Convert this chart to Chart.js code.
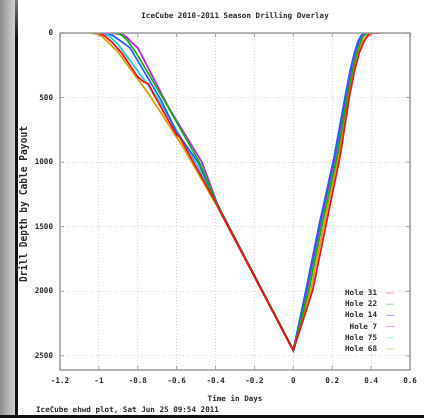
<!DOCTYPE html>
<html>
<head>
<meta charset="utf-8">
<script src="https://cdn.jsdelivr.net/npm/chart.js@4.4.1/dist/chart.umd.min.js"></script>
<style>
  html, body { margin: 0; padding: 0; background: #ffffff; }
  #wrap { position: relative; width: 424px; height: 418px; overflow: hidden; background: #ffffff; }
  #strip { position: absolute; left: 0; top: 0; width: 15px; height: 418px; background: linear-gradient(to right, #8c8c8c, #b8b8b8 60%, #d0d0d0); }
  #bezel { position: absolute; left: 15px; top: 0; width: 3px; height: 418px; background: linear-gradient(to bottom, #777 0px, #111 40px, #111 418px); }
  #bottom { position: absolute; left: 0; top: 415px; width: 424px; height: 3px; background: #111; }
  canvas { position: absolute; left: 0; top: 0; }
</style>
</head>
<body>
<div id="wrap">
  <canvas id="c" width="424" height="418"></canvas>
  <div id="strip"></div>
  <div id="bezel"></div>
  <div id="bottom"></div>
</div>
<script>
// ---- Data ----
const chartTitle = 'IceCube 2010-2011 Season Drilling Overlay';
const xTitle = 'Time in Days';
const yTitle = 'Drill Depth by Cable Payout';
const footerText = 'IceCube ehwd plot, Sat Jun 25 09:54 2011';

const xTickValues = [-1.2, -1, -0.8, -0.6, -0.4, -0.2, 0, 0.2, 0.4, 0.6];
const xTickLabels = ['-1.2', '-1', '-0.8', '-0.6', '-0.4', '-0.2', '0', '0.2', '0.4', '0.6'];
const yTickValues = [0, 500, 1000, 1500, 2000, 2500];
const yTickLabels = ['0', '500', '1000', '1500', '2000', '2500'];

const holeLabels = ['Hole 31', 'Hole 22', 'Hole 14', 'Hole 7', 'Hole 75', 'Hole 68'];
const holeColors = ['#ff1010', '#10b010', '#2060ff', '#c020e0', '#20d0e0', '#d8a000'];

const hole31Time  = [-1.02, -1.00, -0.97, -0.93, -0.88, -0.80, -0.77, -0.745, -0.72, -0.60, -0.585, -0.52, -0.40, -0.20, 0.00, 0.100, 0.170, 0.240, 0.290, 0.315, 0.340, 0.362, 0.380, 0.395, 0.410, 0.450];
const hole31Depth = [0, 2, 22, 75, 160, 340, 378, 395, 470, 790, 805, 985, 1310, 1884, 2458, 1990, 1470, 960, 480, 290, 150, 70, 28, 8, 0, 0];

const hole22Time  = [-0.93, -0.90, -0.88, -0.855, -0.81, -0.66, -0.48, -0.40, -0.20, 0.00, 0.080, 0.150, 0.225, 0.280, 0.305, 0.328, 0.347, 0.362, 0.376, 0.395];
const hole22Depth = [0, 3, 20, 55, 150, 530, 1010, 1300, 1880, 2458, 1990, 1470, 960, 480, 290, 150, 65, 22, 4, 0];

const hole14Time  = [-0.98, -0.95, -0.93, -0.89, -0.84, -0.68, -0.60, -0.585, -0.49, -0.40, -0.20, 0.00, 0.065, 0.135, 0.210, 0.268, 0.292, 0.315, 0.333, 0.348, 0.360, 0.380];
const hole14Depth = [0, 5, 18, 60, 115, 520, 770, 800, 1000, 1300, 1880, 2458, 1990, 1470, 960, 480, 290, 150, 65, 22, 4, 0];

const hole7Time   = [-0.93, -0.88, -0.855, -0.83, -0.80, -0.64, -0.47, -0.38, -0.20, 0.00, 0.070, 0.140, 0.215, 0.272, 0.296, 0.319, 0.337, 0.352, 0.364, 0.385];
const hole7Depth  = [0, 8, 35, 75, 115, 580, 1000, 1370, 1884, 2458, 1990, 1470, 960, 480, 290, 150, 65, 22, 4, 0];

const hole75Time  = [-1.00, -0.97, -0.945, -0.90, -0.70, -0.50, -0.40, -0.20, 0.00, 0.075, 0.145, 0.220, 0.276, 0.300, 0.323, 0.341, 0.356, 0.368, 0.388];
const hole75Depth = [0, 5, 25, 90, 500, 1010, 1310, 1884, 2458, 1990, 1470, 960, 480, 290, 150, 65, 22, 4, 0];

const hole68Time  = [-1.04, -1.01, -0.98, -0.90, -0.74, -0.56, -0.40, -0.20, 0.00, 0.090, 0.160, 0.232, 0.285, 0.312, 0.336, 0.355, 0.368, 0.378, 0.392, 0.420];
const hole68Depth = [0, 6, 30, 150, 480, 900, 1320, 1884, 2458, 1990, 1470, 960, 480, 290, 150, 75, 45, 22, 5, 0];

const holeTimes  = [hole31Time, hole22Time, hole14Time, hole7Time, hole75Time, hole68Time];
const holeDepths = [hole31Depth, hole22Depth, hole14Depth, hole7Depth, hole75Depth, hole68Depth];

// ---- Build chart ----
const FONT = '"DejaVu Sans Mono", monospace';
const textColor = '#2a2a2a';

const datasets = holeLabels.map((lab, i) => ({
  label: lab,
  data: holeTimes[i].map((t, j) => ({ x: t, y: holeDepths[i][j] })),
  borderColor: holeColors[i],
  backgroundColor: holeColors[i],
  borderWidth: 1.8,
  pointRadius: 0,
  showLine: true,
  fill: false,
  tension: 0
}));

const decor = {
  id: 'decor',
  afterDraw(chart) {
    const ctx = chart.ctx;
    const a = chart.chartArea;
    const xs = chart.scales.x, ys = chart.scales.y;
    ctx.save();
    // frame
    ctx.strokeStyle = '#9c9c9c';
    ctx.lineWidth = 1.5;
    ctx.strokeRect(a.left, a.top, a.right - a.left, a.bottom - a.top);
    // inward tick marks
    ctx.lineWidth = 1;
    ctx.strokeStyle = '#a0a0a0';
    xTickValues.forEach(v => {
      const px = xs.getPixelForValue(v);
      ctx.beginPath(); ctx.moveTo(px, a.top); ctx.lineTo(px, a.top + 4); ctx.stroke();
      ctx.beginPath(); ctx.moveTo(px, a.bottom); ctx.lineTo(px, a.bottom - 4); ctx.stroke();
    });
    yTickValues.forEach(v => {
      const py = ys.getPixelForValue(v);
      ctx.beginPath(); ctx.moveTo(a.left, py); ctx.lineTo(a.left + 4, py); ctx.stroke();
      ctx.beginPath(); ctx.moveTo(a.right, py); ctx.lineTo(a.right - 4, py); ctx.stroke();
    });
    // texts
    ctx.fillStyle = textColor;
    ctx.font = 'bold 7.6px ' + FONT;
    ctx.textAlign = 'center';
    ctx.textBaseline = 'middle';
    ctx.fillText(chartTitle, (a.left + a.right) / 2, 16);
    ctx.fillText(xTitle, (a.left + a.right) / 2, 399);
    ctx.textAlign = 'left';
    ctx.fillText(footerText, 36, 410);
    ctx.save();
    ctx.translate(24, 204);
    ctx.rotate(-Math.PI / 2);
    ctx.textAlign = 'center';
    ctx.font = 'bold 9.6px ' + FONT;
    ctx.fillText(yTitle, 0, 0);
    ctx.restore();
    // legend (inside, lower right)
    ctx.font = 'bold 7.6px ' + FONT;
    ctx.textAlign = 'right';
    holeLabels.forEach((lab, i) => {
      const y = 293 + i * 11.2;
      ctx.fillStyle = textColor;
      ctx.fillText(lab, 377, y);
      ctx.strokeStyle = holeColors[i];
      ctx.globalAlpha = 0.45;
      ctx.lineWidth = 1;
      ctx.beginPath(); ctx.moveTo(386, y); ctx.lineTo(394, y); ctx.stroke();
      ctx.globalAlpha = 1;
    });
    ctx.restore();
  }
};

new Chart(document.getElementById('c'), {
  type: 'scatter',
  data: { datasets },
  options: {
    responsive: false,
    animation: false,
    layout: { padding: { left: 0, right: 14, top: 33, bottom: 0 } },
    plugins: { legend: { display: false }, title: { display: false }, tooltip: { enabled: false } },
    scales: {
      x: {
        type: 'linear',
        min: -1.2, max: 0.6,
        afterFit: s => { s.height = 48; },
        afterBuildTicks: s => { s.ticks = xTickValues.map(v => ({ value: v })); },
        ticks: {
          padding: 6,
          color: textColor,
          font: { family: FONT, size: 7.6, weight: 'bold' },
          callback: (v) => { const k = xTickValues.findIndex(t => Math.abs(t - v) < 1e-9); return k >= 0 ? xTickLabels[k] : ''; },
          maxRotation: 0, autoSkip: false
        },
        grid: { color: '#d4d4d4', lineWidth: 1, drawTicks: false },
        border: { display: false, dash: [1, 2] }
      },
      y: {
        type: 'linear',
        reverse: true,
        min: 0, max: 2610,
        afterFit: s => { s.width = 60; },
        afterBuildTicks: s => { s.ticks = yTickValues.map(v => ({ value: v })); },
        ticks: {
          padding: 7,
          color: textColor,
          font: { family: FONT, size: 7.6, weight: 'bold' },
          callback: (v) => { const k = yTickValues.indexOf(v); return k >= 0 ? yTickLabels[k] : ''; },
          autoSkip: false
        },
        grid: { color: '#d4d4d4', lineWidth: 1, drawTicks: false },
        border: { display: false, dash: [1, 2] }
      }
    }
  },
  plugins: [decor]
});
</script>
</body>
</html>
